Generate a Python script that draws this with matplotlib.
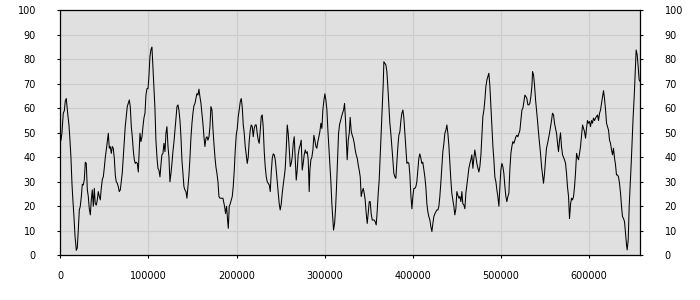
import matplotlib
matplotlib.use("Agg")
import matplotlib.pyplot as plt
import numpy as np

# sample positions (thousands) and values
x_k = [
    0.8, 1.9, 3.4, 4.6, 5.7, 6.8, 8.4, 9.9, 11.0, 12.1, 13.3, 14.4, 15.5, 16.7, 18.2, 19.3,
    20.4, 21.6, 22.7, 23.9, 25.0, 26.1, 27.3, 28.4, 29.5, 30.7, 31.8, 32.9, 34.1, 35.2, 36.3,
    37.5, 38.6, 39.7, 40.9, 42.0, 43.1, 44.3, 45.4, 46.5, 47.7, 48.8, 49.9, 51.1, 52.2, 53.3,
    54.5, 55.6, 56.7, 57.9, 59.0, 60.1, 61.3, 62.4, 63.5, 64.7, 65.8, 66.9, 68.1, 69.2, 70.3,
    71.5, 72.6, 73.7, 74.9, 76.0, 77.1, 78.3, 79.4, 80.6, 81.7, 82.8, 84.0, 85.1, 86.2, 87.4,
    88.5, 89.6, 90.4, 91.5, 92.7, 93.8, 94.9, 96.1, 97.2, 98.3, 99.5, 100.6, 101.7, 102.9,
    104.0, 105.1, 106.3, 107.4, 108.5, 109.7, 110.8, 111.9, 113.1, 114.2, 115.3, 116.5,
    117.6, 118.8, 119.9, 121.0, 122.2, 123.3, 124.4, 125.6, 126.7, 127.8, 129.0, 130.1,
    131.2, 132.4, 133.5, 134.6, 135.8, 136.9, 138.0, 139.2, 140.3, 141.4, 142.6, 143.7,
    144.8, 146.0, 147.1, 148.2, 149.4, 150.5, 151.6, 152.8, 153.9, 155.0, 156.2, 157.3,
    158.4, 159.6, 160.7, 161.8, 163.0, 164.1, 165.3, 166.4, 167.5, 168.7, 169.8, 170.9,
    172.1, 173.2, 174.3, 175.5, 176.6, 177.7, 178.9, 180.0, 181.1, 182.3, 183.4, 184.5,
    186.4, 187.5, 188.7, 189.8, 190.6, 191.7, 192.8, 194.0, 195.1, 196.2, 197.4, 198.5,
    199.6, 200.8, 201.9, 203.0, 204.2, 205.3, 206.4, 207.6, 208.7, 209.8, 211.0, 212.1,
    213.2, 214.4, 215.5, 216.6, 217.8, 218.9, 220.0, 221.2, 222.3, 223.4, 224.6, 225.7,
    226.8, 228.0, 229.1, 230.2, 231.4, 232.5, 233.7, 234.8, 235.9, 237.1, 238.2, 239.3,
    240.5, 241.6, 242.7, 243.9, 245.0, 246.1, 247.3, 248.4, 249.5, 250.7, 251.8, 252.9,
    254.1, 255.2, 256.3, 257.5, 258.6, 259.7, 260.9, 262.0, 263.1, 264.3, 265.4, 266.5,
    267.7, 268.8, 269.9, 271.1, 272.2, 273.3, 274.5, 275.6, 276.7, 277.9, 279.0, 280.2,
    281.3, 282.4, 283.2, 284.3, 285.4, 286.6, 287.7, 288.8, 290.0, 291.1, 292.2, 293.4,
    294.5, 295.7, 296.8, 297.9, 299.1, 300.2, 301.3, 302.5, 303.6, 304.7, 305.9, 307.0,
    308.1, 309.3, 310.0, 311.2, 312.3, 313.4, 314.6, 315.7, 316.8, 318.0, 319.1, 320.2,
    321.4, 322.5, 323.6, 324.8, 325.5, 326.7, 327.8, 328.9, 330.1, 331.2, 332.3, 333.5,
    334.6, 335.7, 336.9, 338.0, 339.1, 340.3, 341.4, 342.5, 343.7, 344.8, 345.9, 347.1,
    348.2, 349.3, 350.5, 351.6, 352.7, 353.9, 355.0, 356.1, 357.3, 358.4, 359.5, 360.7,
    361.8, 362.9, 364.1, 365.2, 366.4, 367.1, 368.2, 369.4, 370.5, 371.6, 372.8, 373.9,
    375.0, 376.2, 377.3, 378.4, 379.6, 380.7, 381.8, 383.0, 384.1, 385.3, 386.4, 387.5,
    388.7, 389.8, 390.9, 392.1, 393.2, 394.3, 395.5, 396.6, 397.7, 398.9, 400.0, 401.1,
    402.3, 403.4, 404.5, 405.7, 406.8, 407.9, 409.1, 410.2, 411.3, 412.5, 413.6, 414.7,
    415.9, 417.0, 418.1, 419.3, 420.4, 421.6, 422.7, 423.8, 425.0, 426.1, 427.2, 428.4,
    429.5, 430.6, 431.8, 432.9, 434.0, 435.2, 436.3, 437.4, 438.6, 439.7, 440.8, 442.0,
    443.1, 444.2, 445.4, 446.5, 447.6, 448.8, 449.9, 451.0, 452.2,
    453.3, 454.5, 455.6, 456.7, 457.9, 459.0, 460.1, 461.3, 462.4, 463.5, 464.7, 465.8,
    466.9, 468.1, 469.2, 470.3, 471.5, 472.6, 473.8, 474.9, 476.0, 477.2, 478.3, 479.4,
    480.6, 481.7, 482.8, 484.0, 485.1, 486.2, 487.4, 488.5, 489.6, 490.8, 491.9, 493.0,
    494.2, 495.3, 496.4, 497.6, 498.7, 499.8, 501.0, 502.1, 503.2, 504.4, 505.5, 506.6,
    507.8, 508.9, 510.0, 511.2, 512.3, 513.4, 514.6, 515.7, 516.9, 518.0, 519.1, 520.3,
    521.4, 522.5, 523.7, 524.8, 525.9, 527.1, 528.2, 529.3, 530.5, 531.6, 532.7, 533.9,
    535.0, 535.8, 536.9, 538.0, 539.2, 540.3, 541.4, 542.6, 543.7, 544.8, 546.0, 547.1,
    548.2, 549.4, 550.5, 551.6, 552.8, 553.9, 555.0, 556.2, 557.3, 558.4, 559.6, 560.7,
    561.8, 563.0, 564.1, 565.2, 566.4, 567.5, 568.6, 569.8, 570.9, 572.0, 573.2, 574.3,
    575.4, 576.6, 577.7, 578.9, 580.0, 581.1, 582.3, 583.4, 584.5, 585.7, 586.8, 587.9,
    589.1, 590.2, 591.3, 592.5, 593.6, 594.7, 595.9, 597.0, 598.1, 599.3, 600.4, 601.5,
    602.7, 603.8, 604.9, 606.1, 607.2, 608.3, 609.5, 610.6, 611.8, 612.9, 614.0, 615.2,
    616.3, 617.4, 618.6, 619.7, 620.8, 622.0, 623.1, 624.2, 625.4, 626.5, 627.6, 628.8,
    629.9, 631.0, 632.2, 633.3, 634.4, 635.6, 636.7, 637.8, 639.0, 640.1, 641.2, 642.4,
    643.1, 644.3, 645.4, 646.5, 647.7, 648.8, 649.9, 651.1, 652.2, 653.3, 654.5, 655.6,
    656.7, 657.9,
]
values = [
    47, 50, 58, 59, 63, 64, 58, 53, 47, 40, 29, 22, 16, 8, 2, 3,
    10, 18.5, 20, 24, 29, 28.7, 31, 38, 37.5, 26.7, 24, 19, 16.5, 22.6, 26.7,
    20, 27.3, 21, 20.5, 22.6, 26, 24, 22.6, 27.3, 31, 32, 35.5, 40, 43, 46.4,
    49.8, 43.7, 44.4, 41.6, 44.4, 43.7, 39.6, 32.8, 30, 29.4, 28, 26, 26.7, 30, 33.5,
    40, 46.4, 52.5, 56.6, 60.7, 62, 63.4, 60.7, 52.5, 48.4, 43, 39, 37.5, 38, 37.5,
    34, 43, 49.8, 46.4, 48.4, 52.5, 56, 58, 65.4, 68, 68, 73, 81, 84,
    85, 77, 68, 60, 47, 40, 35.5, 34.8, 32, 36.9, 41, 41.6,
    45.7, 42.3, 49.8, 52.5, 44.4, 40, 30, 33.5, 37.5, 42.3, 46.4, 51,
    56, 60.7, 61.4, 59.3, 55, 48.4, 39, 33.5, 28, 26.7, 26, 23.3,
    28, 32.8, 39.6, 47.8, 53.9, 58, 61, 62, 64, 66, 65.4, 67.8,
    64.8, 62, 58, 53.9, 48.4, 44.4, 47.8, 48.4, 47, 48.4, 52.5, 60.7,
    59.3, 51.8, 45.7, 40, 36, 33.5, 30, 24, 23.3, 23.3, 23.3, 23.3,
    20, 17, 20, 14.4, 11, 20, 21, 22.6, 24, 28, 34.8, 43,
    49, 51.8, 56.6, 59.3, 62.7, 64, 60.7, 53.2, 49.8, 44.4, 41, 37.5,
    40, 47, 51, 53.2, 52.5, 48.4, 51.8, 53.2, 53.2, 49.8, 47, 45.7,
    50.5, 56.6, 57.3, 52.5, 42.3, 36.2, 32, 30, 29.4, 28.7, 26, 33.5,
    39.6, 41.4, 41, 39, 34.8, 30, 25.3, 21, 18.5, 21, 25.3, 28.7,
    32, 35.5, 43, 53.2, 49.8, 43.7, 36.2, 37.5, 40, 45.7, 48.4, 40,
    30.7, 34.8, 41, 43.7, 45, 47, 34.8, 37.5, 41, 43, 41.6, 42.3,
    39, 26, 34.8, 39, 40, 43, 49, 47, 44.4, 43.7, 46.4, 48.4,
    50.5, 53.9, 51.8, 59.3, 63.4, 65.9, 63.4, 59.3, 51, 44.4, 37.5, 30,
    21, 14.4, 10.3, 13, 19, 28, 39, 49.8, 53.2, 55, 56.6, 58,
    59.3, 62, 55, 44.4, 39, 47, 49.8, 56.3, 50.5, 49, 47.8, 45.7,
    43, 41, 39.6, 36.9, 34.8, 32, 24, 26, 27.3, 25.3, 22.6, 17,
    13, 17, 21.9, 21.9, 17, 14.4, 14.4, 14.4, 13.7, 12.4, 17.8, 25.3,
    30.7, 40, 49.8, 59.3, 70.2, 79, 78.4, 77.7, 75, 68.8, 60.7, 53.9,
    49.8, 44.4, 39, 33.5, 32, 31.4, 37.5, 44.4, 49, 50.5, 55, 58,
    59.3, 56, 49.8, 43.7, 37.5, 38, 37.5, 32.8, 24.6, 19, 24, 27.3,
    27.3, 28, 30, 34.8, 39.6, 41.4, 39.6, 37.5, 38, 34.8, 32, 28,
    21, 17.8, 15.8, 14.4, 11.7, 9.7, 13, 15.8, 17, 17.8, 18.5, 18.5,
    20, 24, 30, 36.2, 42.3, 45.7, 49.8, 51, 53.2, 49.8, 45, 37.5,
    30.7, 25.3, 22.6, 20, 16.5, 19, 26, 24.6, 23.3,
    24, 21.9, 26, 21, 20.5, 19, 25.3, 28.7, 32, 35.5, 37.5, 39,
    41, 35.5, 39.6, 43, 40, 37.5, 35.5, 34, 36.2, 41, 48.4, 56.6,
    59.3, 63.4, 68.8, 71.6, 73, 74.3, 68.8, 60.7, 52.5, 44.4, 39, 32,
    30, 26.7, 24, 20, 28, 34.8, 37.5, 36.2, 33.5, 28, 24, 21.9,
    24, 25.3, 34.8, 41.6, 44.4, 46.4, 45.7, 47, 48.4, 49, 48.4, 49.8,
    51, 55, 59.3, 60, 62.7, 65.4, 64.8, 64, 61.4, 61.4, 62, 64.8,
    68.8, 75, 73.6, 69.5, 63.4, 59.3, 55, 49.8, 45.7, 41.6, 36.2, 32.8,
    29.4, 33.5, 39, 43.7, 45.7, 47.8, 49.8, 52.5, 55, 58, 57.3, 53.9,
    51.8, 49.8, 45.7, 42.3, 47, 50, 44.4, 41, 40, 39, 37.5, 33.5,
    28, 24, 15, 21, 23.3, 22.6, 24, 28, 33.5, 41.6, 40, 39,
    41.6, 44.4, 48.4, 53.2, 51.8, 50.5, 47.8, 51.8, 55, 53.9, 54.6, 52.5,
    55, 53.9, 56, 55, 56, 56.6, 57.3, 55, 58, 59.3, 62, 64.8,
    67.2, 64, 59.3, 53.9, 52.5, 51, 47, 45.7, 43, 41, 43.7, 39.6,
    36.9, 32.8, 32.8, 32, 29.4, 25.3, 20, 15.8, 15, 13.7, 9, 4.2,
    2.2, 6.3, 20, 28, 37.5, 47, 56.6, 64.8, 74.3, 83.8, 81.8, 77,
    71.6, 70.9,
]
x_ticks = [0, 100000, 200000, 300000, 400000, 500000, 600000]
y_ticks = [0, 10, 20, 30, 40, 50, 60, 70, 80, 90, 100]

x = np.array(x_k) * 1000

fig = plt.figure(figsize=(7, 3), dpi=100)
ax = fig.add_axes([0.0861, 0.149, 0.8286, 0.8167])
ax.set_facecolor("#e0e0e0")
ax.plot(x, values, color="black", linewidth=0.75)

ax.set_xlim(0, 658000)
ax.set_ylim(0, 100)
ax.set_xticks(x_ticks)
ax.set_xticklabels([str(t) for t in x_ticks])
ax.set_yticks(y_ticks)
ax.grid(True, color="#cdcdcd", linewidth=0.9)
ax.set_axisbelow(True)

ax.tick_params(axis="y", which="both", right=True, labelright=True,
               length=2.5, width=0.8, pad=15, labelsize=7, colors="black")
ax.tick_params(axis="x", length=2.5, width=0.8, pad=8.5, labelsize=7)
for s in ax.spines.values():
    s.set_linewidth(0.9)

fig.savefig("out.png", dpi=100)
